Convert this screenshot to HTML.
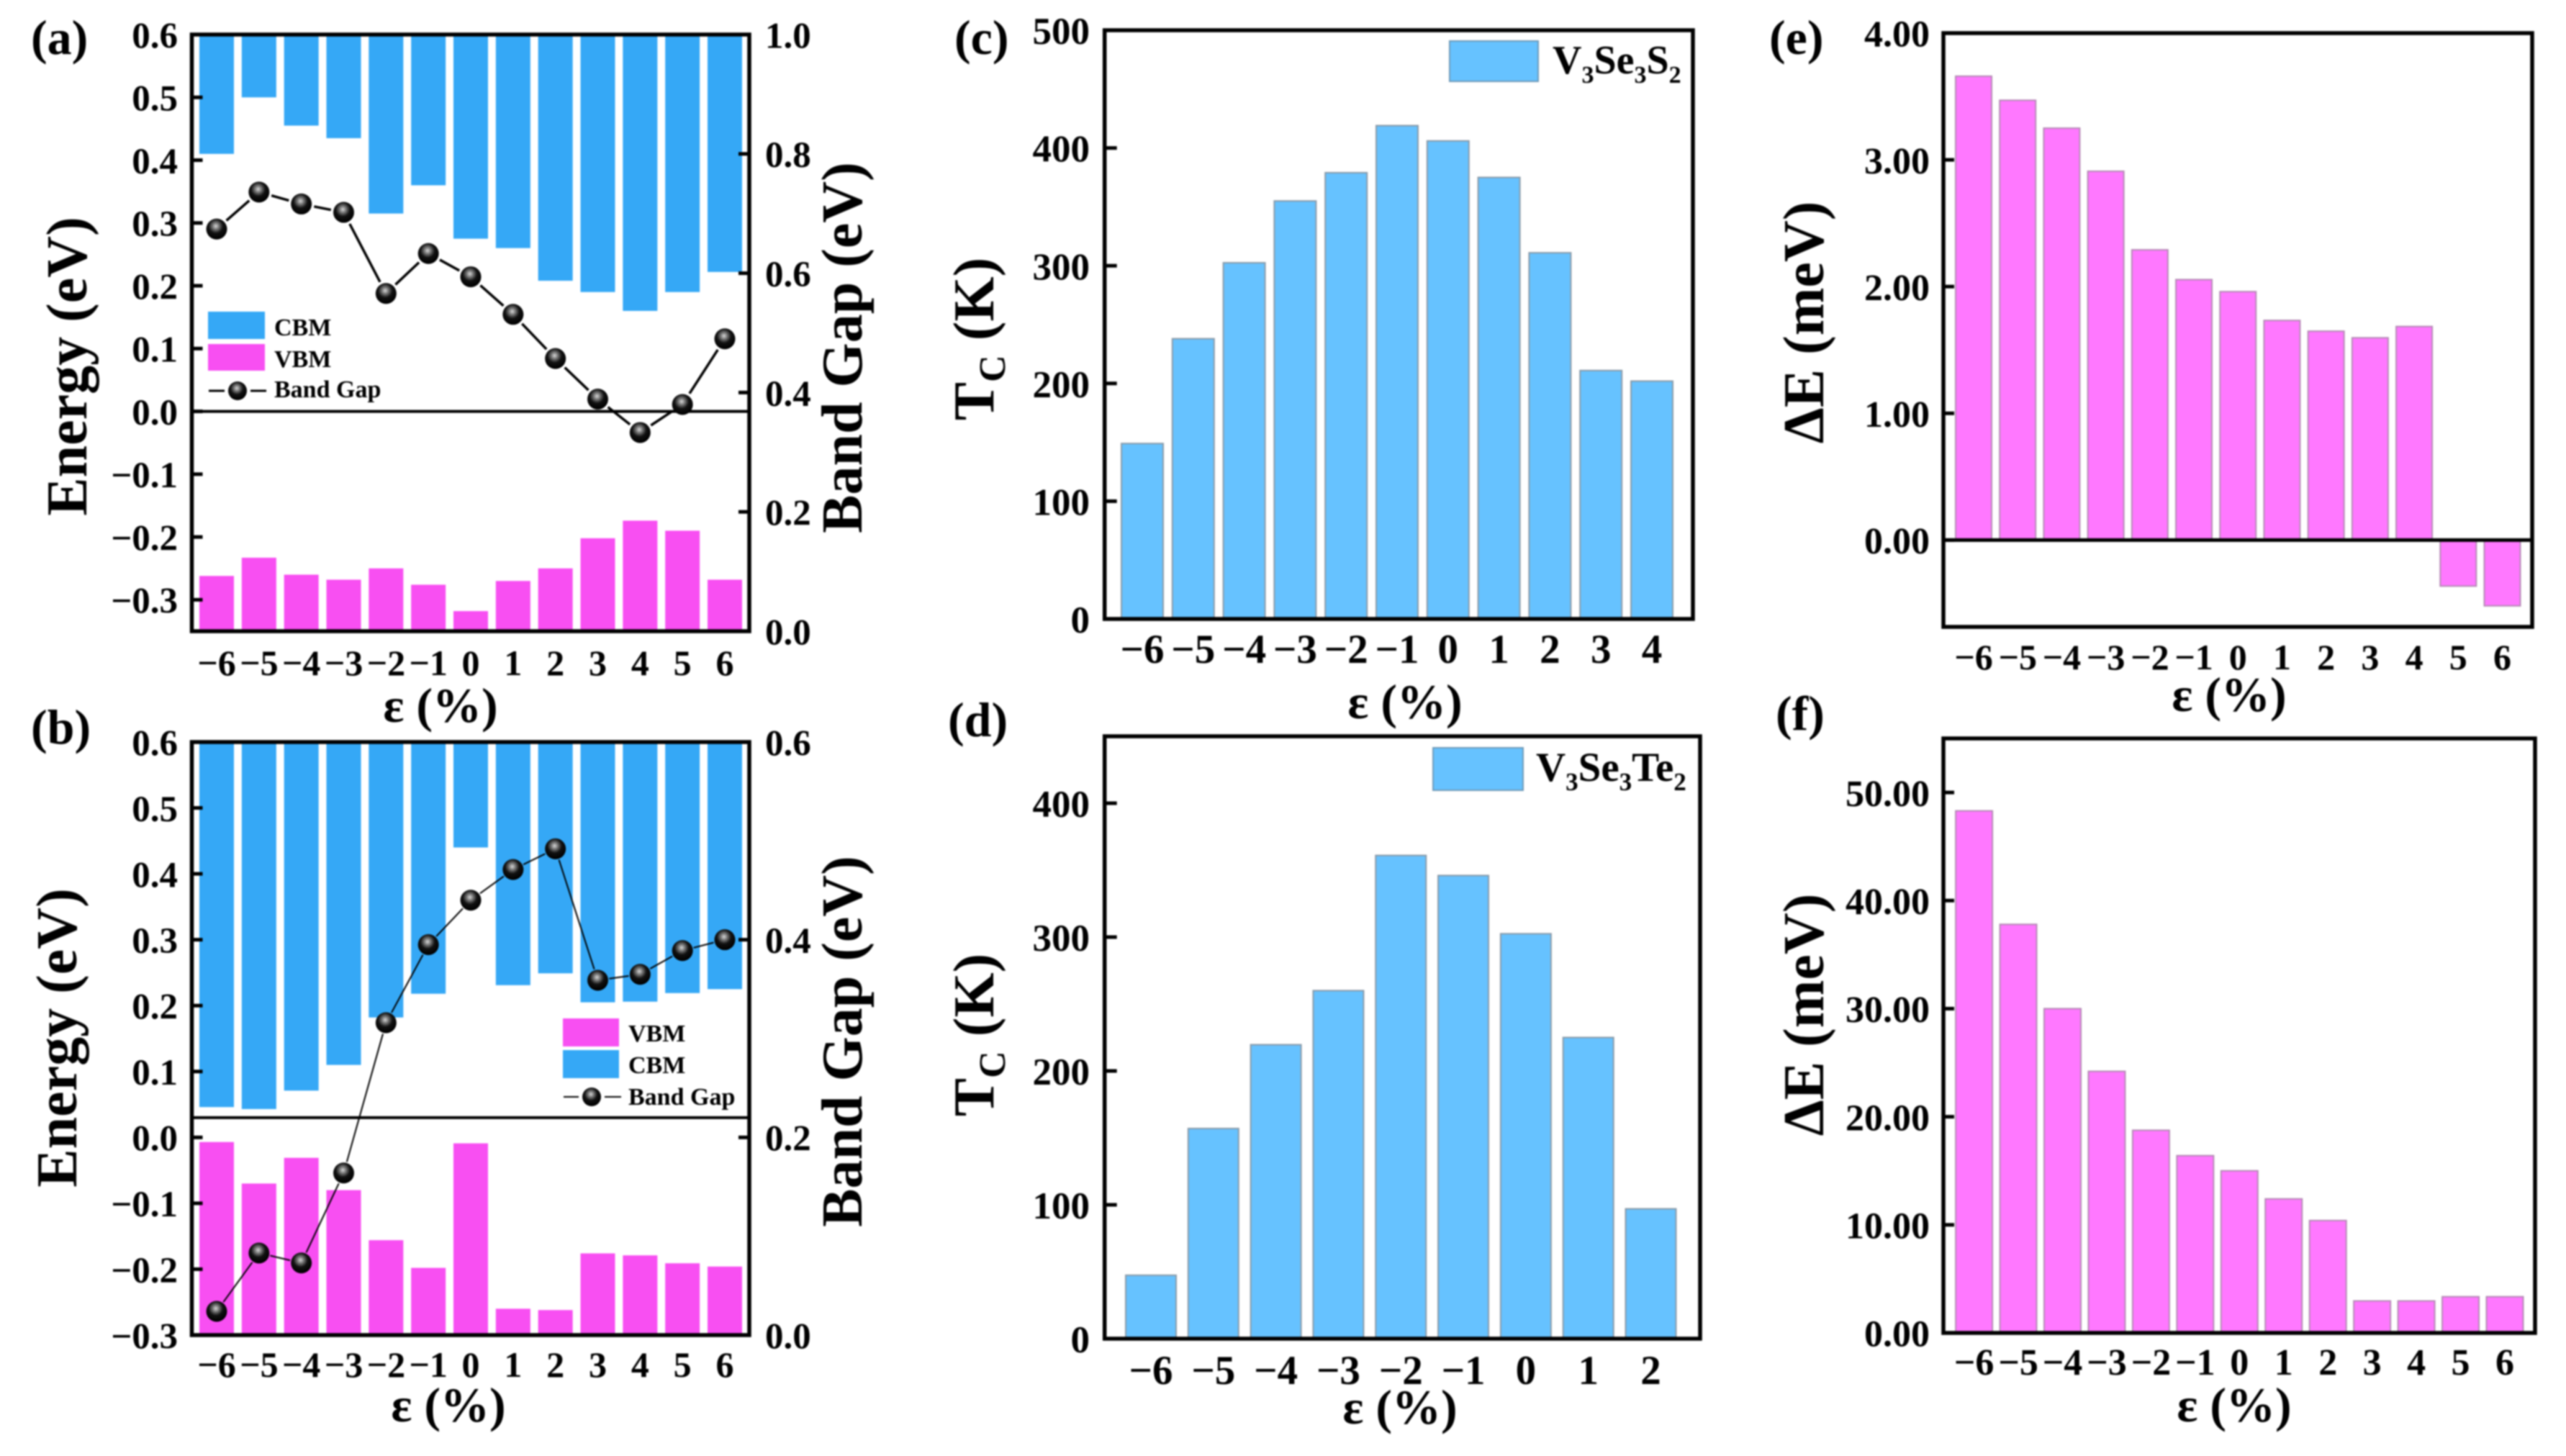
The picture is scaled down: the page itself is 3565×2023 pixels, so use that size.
<!DOCTYPE html>
<html lang="en">
<head>
<meta charset="utf-8">
<title>Strain dependence of band edges, Tc and magnetic anisotropy</title>
<style>
html,body{margin:0;padding:0;background:#fff;}
#figure{display:block;filter:blur(1px);}
text{font-family:"Liberation Serif",serif;font-weight:bold;fill:#000;}
.title{font-size:80px;}
.xt{font-size:68px;text-anchor:middle;}
.pl{font-size:68px;}
.lg{font-size:34px;}
</style>
</head>
<body>
<svg id="figure" xmlns="http://www.w3.org/2000/svg" width="3565" height="2023" viewBox="0 0 3565 2023">
<defs>
<radialGradient id="sphere" cx="0.46" cy="0.36" r="0.62">
<stop offset="0" stop-color="#d8d8d8"/>
<stop offset="0.25" stop-color="#777"/>
<stop offset="0.55" stop-color="#111"/>
<stop offset="1" stop-color="#000"/>
</radialGradient>
</defs>
<rect width="3565" height="2023" fill="#fff"/>
<g id="marks"></g>

<text class="pl" x="43" y="75">(a)</text>
<text class="pl" x="43" y="1033">(b)</text>
<text class="pl" x="1326" y="75">(c)</text>
<text class="pl" x="1317" y="1023">(d)</text>
<text class="pl" x="2458" y="75">(e)</text>
<text class="pl" x="2467" y="1014">(f)</text>

<text class="title" text-anchor="middle" transform="translate(120 509) rotate(-90)">Energy (eV)</text>
<text class="title" text-anchor="middle" transform="translate(1197 483) rotate(-90)">Band Gap (eV)</text>
<text class="xt" x="612" y="1003">ε (%)</text>

<text class="title" text-anchor="middle" transform="translate(106 1442) rotate(-90)">Energy (eV)</text>
<text class="title" text-anchor="middle" transform="translate(1197 1447) rotate(-90)">Band Gap (eV)</text>
<text class="xt" x="623" y="1975">ε (%)</text>

<text class="title" text-anchor="middle" transform="translate(1380 471) rotate(-90)">T<tspan font-size="52" dy="16">C</tspan><tspan dy="-16"> (K)</tspan></text>
<text class="xt" x="1952" y="998">ε (%)</text>

<text class="title" text-anchor="middle" transform="translate(1380 1438) rotate(-90)">T<tspan font-size="52" dy="16">C</tspan><tspan dy="-16"> (K)</tspan></text>
<text class="xt" x="1945" y="1978">ε (%)</text>

<text class="title" text-anchor="middle" transform="translate(2533 448) rotate(-90)">ΔE (meV)</text>
<text class="xt" x="3097" y="988">ε (%)</text>

<text class="title" text-anchor="middle" transform="translate(2533 1410) rotate(-90)">ΔE (meV)</text>
<text class="xt" x="3104" y="1975">ε (%)</text>

<g>
<g>
<rect x="289" y="433" width="79" height="38" fill="#35a8f6"/>
<text class="lg" x="381" y="466">CBM</text>
</g>
<g>
<rect x="289" y="478" width="79" height="37" fill="#f84ff2"/>
<text class="lg" x="381" y="510">VBM</text>
</g>
<g>
<line x1="290" y1="543" x2="312" y2="543" stroke="#000" stroke-width="3"/>
<line x1="348" y1="543" x2="370" y2="543" stroke="#000" stroke-width="3"/>
<circle cx="330" cy="543" r="13" fill="url(#sphere)"/>
<text class="lg" x="381" y="552">Band Gap</text>
</g>
</g>

<g>
<g>
<rect x="782" y="1415" width="78" height="39" fill="#f84ff2"/>
<text class="lg" x="873" y="1447">VBM</text>
</g>
<g>
<rect x="782" y="1459" width="78" height="39" fill="#35a8f6"/>
<text class="lg" x="873" y="1491">CBM</text>
</g>
<g>
<line x1="783" y1="1524" x2="804" y2="1524" stroke="#000" stroke-width="2"/>
<line x1="840" y1="1524" x2="863" y2="1524" stroke="#000" stroke-width="2"/>
<circle cx="822" cy="1524" r="13" fill="url(#sphere)"/>
<text class="lg" x="873" y="1535">Band Gap</text>
</g>
</g>

<g>
<rect x="2014" y="57" width="123" height="56" fill="#66c2ff" stroke="#6f9ab8" stroke-width="2"/>
<text font-size="56" x="2157" y="102">V<tspan font-size="34" dy="13">3</tspan><tspan dy="-13">Se</tspan><tspan font-size="34" dy="13">3</tspan><tspan dy="-13">S</tspan><tspan font-size="34" dy="13">2</tspan></text>
</g>
<g>
<rect x="1991" y="1039" width="125" height="59" fill="#66c2ff" stroke="#6f9ab8" stroke-width="2"/>
<text font-size="57" x="2134" y="1085">V<tspan font-size="35" dy="13">3</tspan><tspan dy="-13">Se</tspan><tspan font-size="35" dy="13">3</tspan><tspan dy="-13">Te</tspan><tspan font-size="35" dy="13">2</tspan></text>
</g>
</svg>

<script>
// ---------- chart data ----------
const strainFull = [-6,-5,-4,-3,-2,-1,0,1,2,3,4,5,6];
const strainC = [-6,-5,-4,-3,-2,-1,0,1,2,3,4];
const strainD = [-6,-5,-4,-3,-2,-1,0,1,2];

const cbmA = [0.41,0.50,0.455,0.435,0.315,0.36,0.275,0.26,0.208,0.19,0.16,0.19,0.222];
const vbmA = [-0.262,-0.233,-0.26,-0.268,-0.25,-0.276,-0.318,-0.27,-0.25,-0.202,-0.174,-0.19,-0.268];
const gapA = [0.674,0.736,0.716,0.702,0.566,0.633,0.594,0.531,0.457,0.389,0.333,0.38,0.49];

const cbmB = [0.046,0.043,0.071,0.11,0.182,0.218,0.44,0.231,0.249,0.205,0.206,0.219,0.225];
const vbmB = [-0.007,-0.07,-0.031,-0.08,-0.156,-0.198,-0.009,-0.26,-0.262,-0.176,-0.179,-0.191,-0.196];
const gapB = [0.024,0.083,0.073,0.164,0.316,0.395,0.44,0.471,0.492,0.359,0.365,0.389,0.40];

const tcC = [149,238,302.5,355,379,419,406,375,311,211,202];
const tcD = [47.4,157,219.6,260,361,346,302.5,225,97];
const deltaE = [3.66,3.47,3.25,2.91,2.29,2.055,1.96,1.733,1.648,1.596,1.685,-0.363,-0.519];
const deltaF = [48.3,37.8,30,24.2,18.75,16.4,15,12.4,10.4,2.96,2.96,3.35,3.35];

const energyTicksA = [-0.3,-0.2,-0.1,0,0.1,0.2,0.3,0.4,0.5,0.6];
const gapTicksA = [0,0.2,0.4,0.6,0.8,1.0];
const energyTicksB = [-0.3,-0.2,-0.1,0,0.1,0.2,0.3,0.4,0.5,0.6];
const gapTicksB = [0,0.2,0.4,0.6];
const tcTicksC = [0,100,200,300,400,500];
const tcTicksD = [0,100,200,300,400];
const deltaTicksE = [0,1,2,3,4];
const deltaTicksF = [0,10,20,30,40,50];

// ---------- helpers ----------
const SVGNS = 'http://www.w3.org/2000/svg';
const root = document.getElementById('marks');
function linear(d0, d1, r0, r1) { return function (v) { return r0 + (v - d0) / (d1 - d0) * (r1 - r0); }; }
function make(tag, attrs, parent) {
  const n = document.createElementNS(SVGNS, tag);
  for (const k in attrs) n.setAttribute(k, attrs[k]);
  parent.appendChild(n);
  return n;
}
function fmt(v, d) { return v.toFixed(d).replace('-', '\u2212'); }

function drawBars(parent, seriesName, cats, vals, x, y, base, width, fill, stroke) {
  vals.forEach(function (v, i) {
    const y0 = y(base), y1 = y(v);
    const bar = make('rect', {x: x(cats[i]) - width / 2, y: Math.min(y0, y1), width: width, height: Math.abs(y1 - y0), fill: fill, stroke: stroke, 'stroke-width': stroke === 'none' ? 0 : 2}, parent);
    
    
  });
}
function drawFrame(parent, panel, box) {
  const frame = make('rect', {x: box.l, y: box.t, width: box.r - box.l, height: box.b - box.t, fill: 'none', stroke: '#000', 'stroke-width': 5.5}, parent);
  
  
}
function drawYTicks(parent, panel, ticks, y, edge, dir, len, labelX, anchor, size, decimals) {
  ticks.forEach(function (v) {
    const py = y(v);
    const tick = make('line', {x1: edge, x2: edge + dir * len, y1: py, y2: py, stroke: '#000', 'stroke-width': 5}, parent);
    
    
    const label = make('text', {x: labelX, y: py + size * 0.36, 'text-anchor': anchor, 'font-size': size}, parent);
    
    
    label.textContent = fmt(v, decimals);
  });
}
function drawXLabels(parent, panel, cats, x, baseline, size) {
  cats.forEach(function (c) {
    const label = make('text', {x: x(c), y: baseline, 'text-anchor': 'middle', 'font-size': size}, parent);
    
    
    label.textContent = fmt(c, 0);
  });
}
function drawHLine(parent, panel, box, py, w) {
  const line = make('line', {x1: box.l, x2: box.r, y1: py, y2: py, stroke: '#000', 'stroke-width': w}, parent);
  
  
}
function drawGapLine(parent, panel, cats, vals, x, y, w, r, gap) {
  // line segments stop short of each symbol, leaving a small white gap
  for (let i = 0; i < vals.length - 1; i++) {
    const x0 = x(cats[i]), y0 = y(vals[i]), x1 = x(cats[i + 1]), y1 = y(vals[i + 1]);
    const len = Math.hypot(x1 - x0, y1 - y0);
    if (len <= 2 * gap) continue;
    const ux = (x1 - x0) / len, uy = (y1 - y0) / len;
    const seg = make('line', {x1: x0 + ux * gap, y1: y0 + uy * gap, x2: x1 - ux * gap, y2: y1 - uy * gap, stroke: '#000', 'stroke-width': w}, parent);
    
    
  }
  vals.forEach(function (v, i) {
    const dot = make('circle', {cx: x(cats[i]), cy: y(v), r: r, fill: 'url(#sphere)'}, parent);
    
    
  });
}

const CBM = '#35a8f6', VBM = '#f84ff2', SKY = '#66c2ff', PINK = '#ff78ff';
const SKYEDGE = '#8a9aa8', PINKEDGE = '#b58ab5';

// ---------- panel a ----------
(function () {
  const box = {l: 266.5, r: 1041, t: 48, b: 877};
  const x = linear(-6, 6, 301, 1007);
  const y = linear(-0.35, 0.6, box.b, box.t);
  const y2 = linear(0, 1, box.b, box.t);
  drawBars(root, 'cbm-a', strainFull, cbmA, x, y, 0.6, 48, CBM, 'none');
  drawBars(root, 'vbm-a', strainFull, vbmA, x, y, -0.35, 48, VBM, 'none');
  drawHLine(root, 'a', box, y(0), 4);
  drawFrame(root, 'a', box);
  drawYTicks(root, 'a', energyTicksA, y, box.l, 1, 15, 247, 'end', 51, 1);
  drawYTicks(root, 'a-right', gapTicksA, y2, box.r, -1, 15, 1063, 'start', 51, 1);
  drawXLabels(root, 'a', strainFull, x, 938, 50);
  drawGapLine(root, 'a', strainFull, gapA, x, y2, 3.5, 14.5, 18);
})();

// ---------- panel b ----------
(function () {
  const box = {l: 266.5, r: 1041, t: 1031, b: 1855};
  const x = linear(-6, 6, 301, 1007);
  const y = linear(-0.3, 0.6, box.b, box.t);
  const y2 = linear(0, 0.6, box.b, box.t);
  drawBars(root, 'cbm-b', strainFull, cbmB, x, y, 0.6, 48, CBM, 'none');
  drawBars(root, 'vbm-b', strainFull, vbmB, x, y, -0.3, 48, VBM, 'none');
  drawHLine(root, 'b', box, y(0.03), 4);
  drawFrame(root, 'b', box);
  drawYTicks(root, 'b', energyTicksB, y, box.l, 1, 15, 247, 'end', 51, 1);
  drawYTicks(root, 'b-right', gapTicksB, y2, box.r, -1, 15, 1063, 'start', 51, 1);
  drawXLabels(root, 'b', strainFull, x, 1913, 50);
  drawGapLine(root, 'b', strainFull, gapB, x, y2, 2, 14.5, 16);
})();

// ---------- panel c ----------
(function () {
  const box = {l: 1534.7, r: 2352, t: 42, b: 860};
  const x = linear(-6, 4, 1587, 2295);
  const y = linear(0, 500, box.b, box.t);
  drawBars(root, 'tc-c', strainC, tcC, x, y, 0, 58, SKY, SKYEDGE);
  drawFrame(root, 'c', box);
  drawYTicks(root, 'c', tcTicksC, y, box.l, 1, 17, 1514, 'end', 53, 0);
  drawXLabels(root, 'c', strainC, x, 921, 57);
})();

// ---------- panel d ----------
(function () {
  const box = {l: 1534.7, r: 2362, t: 1023, b: 1860};
  const x = linear(-6, 2, 1599, 2293.5);
  const y = linear(0, 450, box.b, box.t);
  drawBars(root, 'tc-d', strainD, tcD, x, y, 0, 70, SKY, SKYEDGE);
  drawFrame(root, 'd', box);
  drawYTicks(root, 'd', tcTicksD, y, box.l, 1, 17, 1514, 'end', 53, 0);
  drawXLabels(root, 'd', strainD, x, 1923, 57);
})();

// ---------- panel e ----------
(function () {
  const box = {l: 2700, r: 3518, t: 46, b: 871};
  const x = linear(-6, 6, 2742, 3476.5);
  const y = linear(-0.685, 4, box.b, box.t);
  drawBars(root, 'delta-e', strainFull, deltaE, x, y, 0, 50, PINK, PINKEDGE);
  drawHLine(root, 'e', box, y(0), 5);
  drawFrame(root, 'e', box);
  drawYTicks(root, 'e', deltaTicksE, y, box.l, 1, 15, 2681, 'end', 52, 2);
  drawXLabels(root, 'e', strainFull, x, 930, 50);
})();

// ---------- panel f ----------
(function () {
  const box = {l: 2700, r: 3522, t: 1026, b: 1852};
  const x = linear(-6, 6, 2742.6, 3480);
  const y = linear(0, 55, box.b, box.t);
  drawBars(root, 'delta-f', strainFull, deltaF, x, y, 0, 51, PINK, PINKEDGE);
  drawFrame(root, 'f', box);
  drawYTicks(root, 'f', deltaTicksF, y, box.l, 1, 15, 2681, 'end', 52, 2);
  drawXLabels(root, 'f', strainFull, x, 1910, 52);
})();
</script>
</body>
</html>
